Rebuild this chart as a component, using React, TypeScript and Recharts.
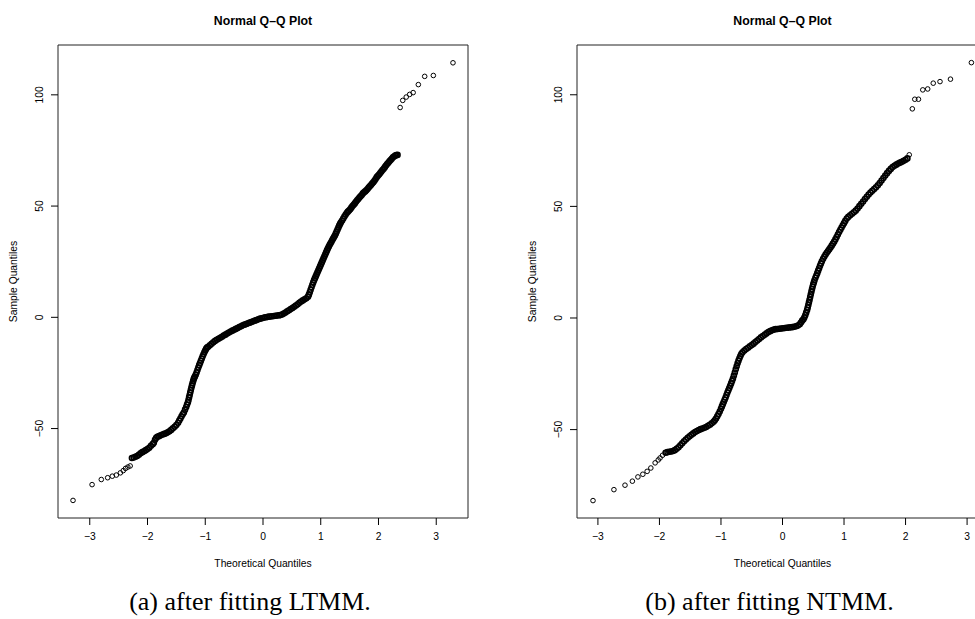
import { ScatterChart, Scatter, XAxis, YAxis, ReferenceArea } from 'recharts';

const xTicks = [-3, -2, -1, 0, 1, 2, 3];
const yTicks = [-50, 0, 50, 100];

// (a) LTMM residuals: [theoretical quantile, sample quantile]
const ltmmLowerTail = [
  [-3.29, -82.3], [-2.96, -75.2], [-2.8, -72.9], [-2.69, -72.1], [-2.61, -71.4], [-2.54, -70.9],
  [-2.47, -69.9], [-2.42, -68.9], [-2.38, -67.9], [-2.34, -67.3], [-2.3, -66.8],
];
const ltmmBody = [
  [-2.27, -63.2], [-2.24, -63.0], [-2.21, -62.7], [-2.18, -62.3], [-2.15, -61.8], [-2.12, -61.1],
  [-2.09, -60.6], [-2.06, -60.2], [-2.03, -59.7], [-2.0, -59.2], [-1.97, -58.6], [-1.94, -57.7],
  [-1.91, -57.0], [-1.89, -56.4], [-1.87, -55.0], [-1.85, -54.2], [-1.83, -53.7], [-1.8, -53.4],
  [-1.77, -53.0], [-1.74, -52.7], [-1.71, -52.4], [-1.68, -52.1], [-1.65, -51.7], [-1.62, -51.2],
  [-1.59, -50.6], [-1.56, -49.9], [-1.53, -49.2], [-1.5, -48.4], [-1.47, -47.4], [-1.45, -46.4],
  [-1.43, -45.5], [-1.41, -44.5], [-1.39, -43.6], [-1.37, -42.8], [-1.35, -41.5], [-1.33, -40.3],
  [-1.315, -39.2], [-1.3, -38.2], [-1.29, -37.2], [-1.28, -36.0], [-1.27, -34.9], [-1.26, -33.8],
  [-1.25, -32.7], [-1.24, -31.7], [-1.23, -30.6], [-1.22, -29.6], [-1.21, -28.7], [-1.2, -27.8],
  [-1.19, -27.2], [-1.18, -26.6], [-1.165, -25.8], [-1.15, -24.8], [-1.135, -23.7], [-1.12, -22.6],
  [-1.105, -21.5], [-1.09, -20.5], [-1.075, -19.5], [-1.06, -18.5], [-1.045, -17.5], [-1.03, -16.6],
  [-1.015, -15.7], [-1.0, -14.9], [-0.985, -14.2], [-0.97, -13.6], [-0.95, -13.2], [-0.92, -12.6],
  [-0.89, -11.9], [-0.86, -11.2], [-0.83, -10.6], [-0.8, -10.1], [-0.77, -9.6], [-0.74, -9.2],
  [-0.71, -8.7], [-0.68, -8.2], [-0.65, -7.8], [-0.62, -7.3], [-0.59, -6.8], [-0.56, -6.4],
  [-0.53, -6.0], [-0.5, -5.6], [-0.47, -5.2], [-0.44, -4.8], [-0.41, -4.4], [-0.38, -4.0],
  [-0.35, -3.6], [-0.32, -3.3], [-0.29, -3.0], [-0.26, -2.7], [-0.23, -2.4], [-0.2, -2.1],
  [-0.17, -1.8], [-0.14, -1.5], [-0.11, -1.2], [-0.08, -0.9], [-0.05, -0.6], [-0.02, -0.4],
  [0.01, -0.2], [0.04, 0.0], [0.07, 0.1], [0.1, 0.3], [0.13, 0.4], [0.16, 0.5],
  [0.19, 0.6], [0.22, 0.7], [0.25, 0.8], [0.28, 0.9], [0.3, 1.0], [0.33, 1.3],
  [0.36, 1.7], [0.39, 2.2], [0.42, 2.7], [0.45, 3.2], [0.48, 3.7], [0.51, 4.2],
  [0.54, 4.7], [0.57, 5.3], [0.6, 5.9], [0.63, 6.5], [0.66, 7.1], [0.69, 7.6],
  [0.72, 8.1], [0.75, 8.6], [0.78, 9.3], [0.795, 10.2], [0.81, 11.3], [0.825, 12.4],
  [0.84, 13.5], [0.855, 14.6], [0.87, 15.7], [0.885, 16.7], [0.9, 17.6], [0.915, 18.5],
  [0.93, 19.4], [0.945, 20.3], [0.96, 21.2], [0.975, 22.1], [0.99, 23.0], [1.005, 23.9],
  [1.02, 24.8], [1.035, 25.7], [1.05, 26.6], [1.065, 27.5], [1.08, 28.4], [1.095, 29.3],
  [1.11, 30.2], [1.125, 31.0], [1.14, 31.8], [1.155, 32.6], [1.17, 33.3], [1.185, 34.0],
  [1.2, 34.7], [1.215, 35.4], [1.23, 36.1], [1.245, 36.8], [1.26, 37.6], [1.275, 38.5],
  [1.29, 39.4], [1.305, 40.3], [1.32, 41.2], [1.335, 42.0], [1.35, 42.7], [1.37, 43.5],
  [1.39, 44.4], [1.41, 45.3], [1.43, 46.1], [1.45, 46.9], [1.47, 47.5], [1.49, 48.0],
  [1.51, 48.6], [1.53, 49.3], [1.55, 50.0], [1.57, 50.6], [1.59, 51.2], [1.61, 51.9],
  [1.63, 52.6], [1.65, 53.2], [1.67, 53.8], [1.69, 54.4], [1.71, 55.0], [1.73, 55.7],
  [1.75, 56.2], [1.77, 56.6], [1.79, 57.1], [1.81, 57.7], [1.83, 58.3], [1.85, 58.9],
  [1.87, 59.5], [1.89, 60.1], [1.91, 60.7], [1.93, 61.4], [1.95, 62.2], [1.97, 63.0],
  [1.99, 63.6], [2.01, 64.2], [2.03, 64.9], [2.05, 65.5], [2.07, 66.2], [2.09, 66.8],
  [2.11, 67.5], [2.13, 68.2], [2.15, 68.9], [2.17, 69.5], [2.19, 70.1], [2.21, 70.7],
  [2.23, 71.3], [2.25, 71.9], [2.27, 72.3], [2.29, 72.7], [2.31, 72.9], [2.33, 73.0],
];
const ltmmUpperTail = [
  [2.375, 94.3], [2.42, 97.5], [2.48, 99.0], [2.54, 100.2], [2.6, 101.0], [2.69, 104.6],
  [2.8, 108.3], [2.95, 108.7], [3.29, 114.4],
];

// (b) NTMM residuals
const ntmmLowerTail = [
  [-3.08, -81.8], [-2.74, -76.9], [-2.56, -74.9], [-2.44, -73.1], [-2.35, -71.2], [-2.27, -70.0],
  [-2.2, -68.7], [-2.14, -67.2], [-2.07, -64.9], [-2.02, -63.6], [-1.99, -62.7], [-1.95, -61.5],
];
const ntmmBody = [
  [-1.9, -60.4], [-1.87, -60.1], [-1.84, -59.9], [-1.81, -59.8], [-1.78, -59.6], [-1.75, -59.2],
  [-1.72, -58.6], [-1.69, -57.9], [-1.66, -57.0], [-1.63, -56.1], [-1.6, -55.2], [-1.57, -54.4],
  [-1.54, -53.7], [-1.51, -53.0], [-1.48, -52.3], [-1.45, -51.7], [-1.42, -51.1], [-1.39, -50.6],
  [-1.36, -50.2], [-1.33, -49.8], [-1.3, -49.5], [-1.27, -49.2], [-1.24, -48.8], [-1.21, -48.3],
  [-1.18, -47.8], [-1.15, -47.2], [-1.12, -46.5], [-1.1, -45.8], [-1.08, -45.0], [-1.06, -44.0],
  [-1.04, -43.0], [-1.02, -41.9], [-1.0, -40.7], [-0.985, -39.6], [-0.97, -38.6], [-0.955, -37.6],
  [-0.94, -36.6], [-0.925, -35.6], [-0.91, -34.5], [-0.895, -33.4], [-0.88, -32.4], [-0.865, -31.4],
  [-0.85, -30.4], [-0.835, -29.3], [-0.82, -28.2], [-0.805, -27.1], [-0.79, -25.8], [-0.775, -24.4],
  [-0.76, -23.0], [-0.745, -21.6], [-0.73, -20.3], [-0.715, -19.1], [-0.7, -18.0], [-0.685, -17.0],
  [-0.67, -16.1], [-0.65, -15.4], [-0.62, -14.6], [-0.59, -13.9], [-0.56, -13.3], [-0.53, -12.7],
  [-0.5, -12.1], [-0.47, -11.5], [-0.44, -10.8], [-0.41, -10.1], [-0.38, -9.4], [-0.35, -8.7],
  [-0.32, -8.1], [-0.29, -7.5], [-0.26, -6.9], [-0.23, -6.3], [-0.2, -5.9], [-0.17, -5.5],
  [-0.14, -5.2], [-0.11, -5.0], [-0.08, -4.9], [-0.05, -4.8], [-0.02, -4.7], [0.01, -4.6],
  [0.04, -4.5], [0.07, -4.4], [0.1, -4.3], [0.13, -4.2], [0.16, -4.1], [0.19, -3.9],
  [0.22, -3.7], [0.25, -3.4], [0.28, -2.8], [0.3, -2.0], [0.32, -1.2], [0.34, -0.6],
  [0.355, 0.2], [0.37, 1.2], [0.385, 2.4], [0.4, 3.6], [0.41, 4.7], [0.42, 5.8],
  [0.43, 7.0], [0.44, 8.2], [0.45, 9.4], [0.46, 10.6], [0.47, 11.8], [0.48, 13.0],
  [0.49, 14.1], [0.5, 15.1], [0.51, 16.0], [0.52, 16.9], [0.535, 18.0], [0.55, 19.0],
  [0.565, 20.1], [0.58, 21.2], [0.595, 22.3], [0.61, 23.4], [0.625, 24.4], [0.64, 25.4],
  [0.66, 26.5], [0.68, 27.5], [0.7, 28.4], [0.72, 29.2], [0.74, 30.0], [0.76, 30.8],
  [0.78, 31.6], [0.8, 32.4], [0.82, 33.3], [0.84, 34.2], [0.86, 35.2], [0.88, 36.3],
  [0.9, 37.4], [0.92, 38.5], [0.94, 39.5], [0.96, 40.5], [0.98, 41.5], [1.0, 42.5],
  [1.02, 43.5], [1.045, 44.6], [1.07, 45.3], [1.1, 46.0], [1.13, 46.7], [1.16, 47.4],
  [1.19, 48.1], [1.22, 49.0], [1.25, 50.1], [1.28, 51.2], [1.31, 52.2], [1.34, 53.3],
  [1.37, 54.3], [1.4, 55.3], [1.43, 56.2], [1.46, 57.0], [1.49, 57.8], [1.52, 58.6],
  [1.55, 59.5], [1.58, 60.5], [1.61, 61.6], [1.64, 62.7], [1.67, 63.8], [1.7, 64.9],
  [1.73, 65.9], [1.76, 66.8], [1.79, 67.6], [1.82, 68.2], [1.85, 68.7], [1.88, 69.2],
  [1.91, 69.6], [1.94, 70.0], [1.97, 70.4], [2.0, 70.9], [2.03, 71.5],
];
const ntmmUpperTail = [
  [2.06, 73.1], [2.11, 93.7], [2.15, 98.0], [2.21, 98.0], [2.28, 102.2], [2.36, 102.6],
  [2.45, 105.2], [2.56, 105.9], [2.73, 107.0], [3.07, 114.4],
];

const SANS = '"Liberation Sans", Arial, Helvetica, sans-serif';
const SERIF = '"Liberation Serif", "Times New Roman", serif';
const H = 619;

const fmt = (v: number) => (v < 0 ? `\u2212${Math.abs(v)}` : `${v}`);
const toPoints = (...groups: number[][][]) => groups.flat().map(([x, y]) => ({ x, y }));

// sparse tail points: thin open circles
const Ring = (props: any) => {
  const { cx, cy } = props;
  if (cx == null || cy == null) return null;
  return <circle cx={cx} cy={cy} r={2.3} fill="none" stroke="#000" strokeWidth={1} />;
};

// the packed middle of the sample: circles overlap into a solid band
const DenseRing = (props: any) => {
  const { cx, cy } = props;
  if (cx == null || cy == null) return null;
  return <circle cx={cx} cy={cy} r={2.5} fill="none" stroke="#000" strokeWidth={1.6} />;
};

const XTick = ({ x, y, payload }: any) => (
  <text x={x} y={y + 13} textAnchor="middle" fontSize={10.3} fontFamily={SANS} fill="#000">
    {fmt(payload.value)}
  </text>
);

const YTick = ({ x, y, payload }: any) => (
  <text
    x={x - 5.5}
    y={y}
    transform={`rotate(-90, ${x - 5.5}, ${y})`}
    textAnchor="middle"
    fontSize={10.3}
    fontFamily={SANS}
    fill="#000"
  >
    {fmt(payload.value)}
  </text>
);

function QQPanel({ tails, body, xDomain, yDomain, left, width, yAxisWidth }: any) {
  const right = 22;
  const plotCenter = yAxisWidth + (width - yAxisWidth - right) / 2;
  const plotMid = 45 + (518 - 45) / 2;
  return (
    <div style={{ position: 'absolute', left, top: 0, width, height: H }}>
      <ScatterChart width={width} height={H} margin={{ top: 45, right, bottom: 0, left: 0 }}>
        <XAxis
          type="number"
          dataKey="x"
          domain={xDomain}
          ticks={xTicks}
          interval={0}
          allowDataOverflow
          axisLine={false}
          tickLine={{ stroke: '#000' }}
          tickSize={7}
          height={101}
          tick={<XTick />}
        />
        <YAxis
          type="number"
          dataKey="y"
          domain={yDomain}
          ticks={yTicks}
          interval={0}
          allowDataOverflow
          axisLine={false}
          tickLine={{ stroke: '#000' }}
          tickSize={7}
          width={yAxisWidth}
          tick={<YTick />}
        />
        <ReferenceArea
          x1={xDomain[0]}
          x2={xDomain[1]}
          y1={yDomain[0]}
          y2={yDomain[1]}
          fill="none"
          fillOpacity={0}
          stroke="#222"
          strokeWidth={1}
          ifOverflow="visible"
        />
        <Scatter data={body} shape={<DenseRing />} isAnimationActive={false} />
        <Scatter data={tails} shape={<Ring />} isAnimationActive={false} />
      </ScatterChart>
      <svg
        width={width}
        height={H}
        style={{ position: 'absolute', left: 0, top: 0, pointerEvents: 'none' }}
      >
        <text x={plotCenter} y={24.5} textAnchor="middle" fontSize={12.3} fontWeight="bold" fontFamily={SANS}>
          Normal Q–Q Plot
        </text>
        <text x={plotCenter} y={567} textAnchor="middle" fontSize={10.3} fontFamily={SANS}>
          Theoretical Quantiles
        </text>
        <text
          x={yAxisWidth - 41.5}
          y={plotMid}
          transform={`rotate(-90, ${yAxisWidth - 41.5}, ${plotMid})`}
          textAnchor="middle"
          fontSize={10.3}
          fontFamily={SANS}
        >
          Sample Quantiles
        </text>
      </svg>
    </div>
  );
}

export default function App() {
  return (
    <div
      style={{
        position: 'absolute',
        left: 0,
        top: 0,
        width: 975,
        height: H,
        overflow: 'hidden',
        background: '#fff',
      }}
    >
      <QQPanel
        tails={toPoints(ltmmLowerTail, ltmmUpperTail)}
        body={toPoints(ltmmBody)}
        xDomain={[-3.55, 3.55]}
        yDomain={[-90.2, 122.4]}
        left={0}
        width={490}
        yAxisWidth={58}
      />
      <QQPanel
        tails={toPoints(ntmmLowerTail, ntmmUpperTail)}
        body={toPoints(ntmmBody)}
        xDomain={[-3.34, 3.34]}
        yDomain={[-89.6, 122.3]}
        left={490}
        width={520}
        yAxisWidth={87}
      />
      <svg width={975} height={H} style={{ position: 'absolute', left: 0, top: 0, pointerEvents: 'none' }}>
        <text x={250} y={610} textAnchor="middle" fontSize={26} fontFamily={SERIF}>
          (a) after fitting LTMM.
        </text>
        <text x={769.5} y={610} textAnchor="middle" fontSize={26} fontFamily={SERIF}>
          (b) after fitting NTMM.
        </text>
      </svg>
    </div>
  );
}
